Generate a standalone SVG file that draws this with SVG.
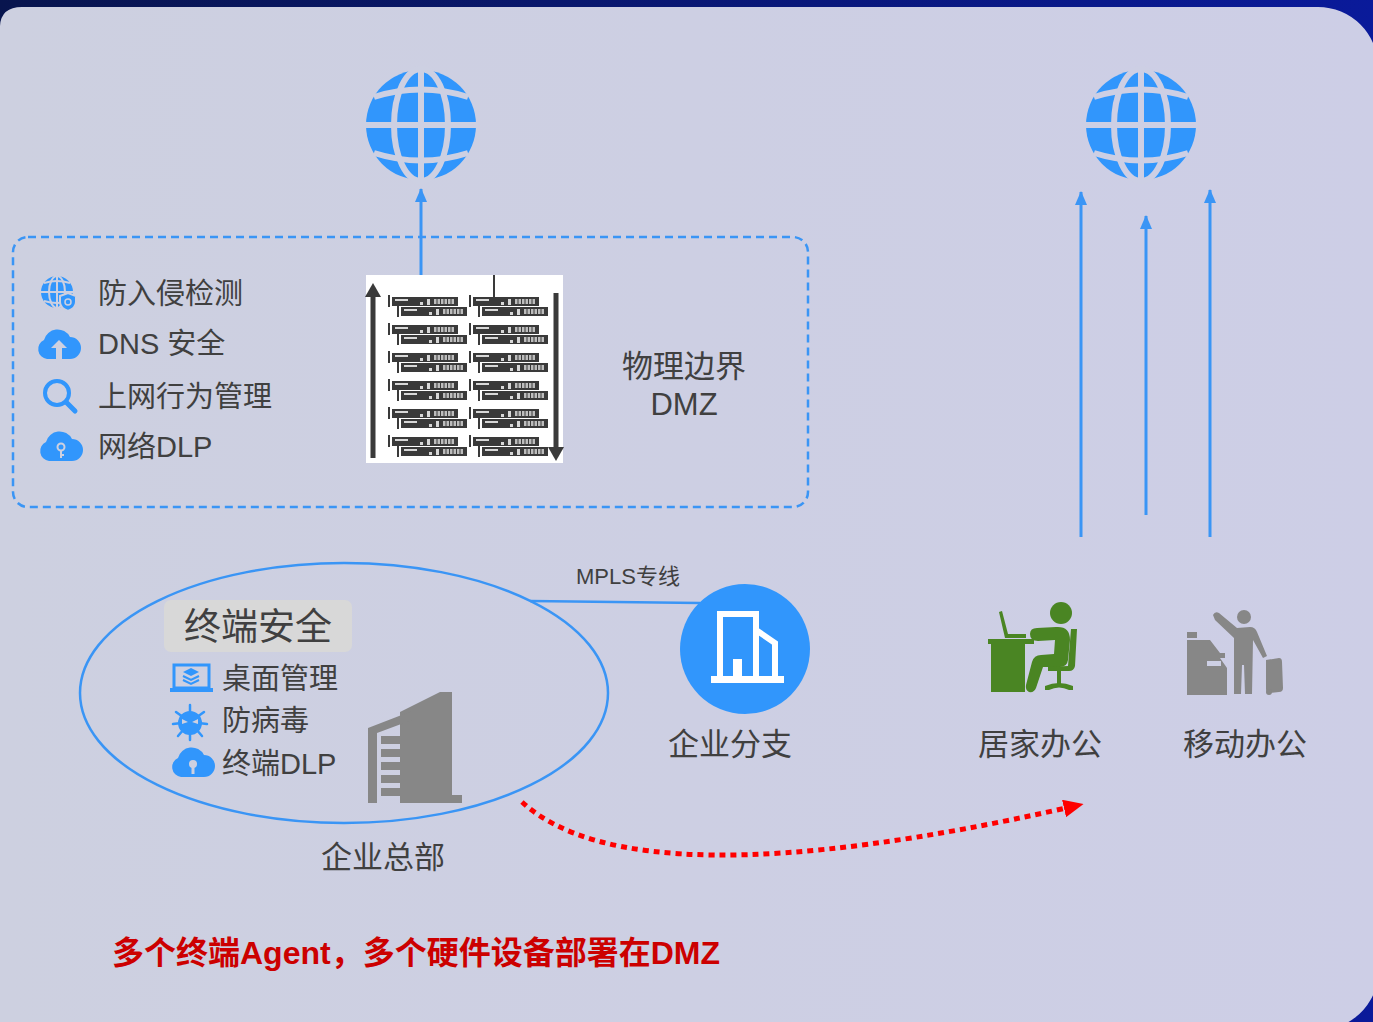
<svg xmlns="http://www.w3.org/2000/svg" width="1373" height="1022" viewBox="0 0 1373 1022">
  <defs>
    <linearGradient id="bgNavy" x1="0" y1="0" x2="1" y2="0">
      <stop offset="0" stop-color="#08154e"/>
      <stop offset="1" stop-color="#0a1a9a"/>
    </linearGradient>
    <linearGradient id="panelFill" x1="0" y1="0" x2="1" y2="0">
      <stop offset="0" stop-color="#cdd0e0"/>
      <stop offset="1" stop-color="#cdcee6"/>
    </linearGradient>
    <marker id="blueHead" viewBox="0 0 14 12" refX="13" refY="6" markerWidth="14" markerHeight="12" markerUnits="userSpaceOnUse" orient="auto">
      <path d="M0,0 L14,6 L0,12 Z" fill="#3a95f5"/>
    </marker>
    <marker id="redHead" viewBox="0 0 20 18" refX="2" refY="9" markerWidth="20" markerHeight="18" markerUnits="userSpaceOnUse" orient="auto">
      <path d="M0,0 L20,9 L0,18 Z" fill="#ff0000"/>
    </marker>
    <!-- one rack server unit -->
    <g id="rackUnit">
      <rect x="0" y="0" width="66" height="9" fill="#3a3a3a"/>
      <rect x="3" y="2" width="13" height="2" fill="#d8d8d8"/>
      <rect x="28" y="5" width="3" height="3" fill="#d8d8d8"/>
      <rect x="35" y="2" width="3" height="6" fill="#d8d8d8"/>
      <rect x="42" y="2" width="20" height="5" fill="#bdbdbd"/>
      <path d="M45,2 v5 M48.5,2 v5 M52,2 v5 M55.5,2 v5 M59,2 v5" stroke="#3a3a3a" stroke-width="1"/>
    </g>
    <g id="rackPair">
      <rect x="-4" y="-2" width="2" height="12" fill="#3a3a3a"/>
      <use href="#rackUnit"/>
      <rect x="5" y="9" width="2" height="11" fill="#3a3a3a"/>
      <use href="#rackUnit" x="9" y="10"/>
    </g>
  </defs>
  <style>
    .txt { font-family: "Liberation Sans", "Noto Sans CJK SC", sans-serif; fill: #404040; }
    .item { font-size: 29px; }
    .label { font-size: 31px; }
    .blue { fill: #3196fc; }
    .grey { fill: #878787; }
    .green { fill: #4a8523; }
  </style>

  <!-- backdrop -->
  <rect x="0" y="0" width="1373" height="1022" fill="url(#bgNavy)"/>
  <path d="M0,26 Q1,7 22,7 H1318 A60,60 0 0 1 1378,67 V962 A60,60 0 0 1 1318,1030 H0 Z" fill="url(#panelFill)"/>

  <!-- connectors -->
  <g id="connectors">
    <line x1="421" y1="285" x2="421" y2="189" stroke="#3a95f5" stroke-width="3" marker-end="url(#blueHead)"/>
    <line x1="1081" y1="537" x2="1081" y2="192" stroke="#3a95f5" stroke-width="3" marker-end="url(#blueHead)"/>
    <line x1="1146" y1="515" x2="1146" y2="216" stroke="#3a95f5" stroke-width="3" marker-end="url(#blueHead)"/>
    <line x1="1210" y1="537" x2="1210" y2="190" stroke="#3a95f5" stroke-width="3" marker-end="url(#blueHead)"/>
    <line x1="530" y1="601" x2="700" y2="603" stroke="#3a95f5" stroke-width="2.5"/>
    <text class="txt" x="628" y="584" font-size="22" text-anchor="middle">MPLS专线</text>
    <path d="M522,802 Q634,905 1066,808" fill="none" stroke="#ff0000" stroke-width="5" stroke-dasharray="6 5" marker-end="url(#redHead)"/>
  </g>

  <!-- internet globes -->
  <g id="globe-left">
    <circle cx="421" cy="125" r="55" class="blue"/>
    <g stroke="#cdd0e2" stroke-width="6" fill="none">
      <line x1="421" y1="68" x2="421" y2="182"/>
      <line x1="364" y1="125" x2="478" y2="125"/>
      <ellipse cx="421" cy="125" rx="27" ry="56"/>
      <path d="M374,97 Q421,82 468,97"/>
      <path d="M374,153 Q421,168 468,153"/>
    </g>
  </g>
  <g id="globe-right">
    <circle cx="1141" cy="125" r="55" class="blue"/>
    <g stroke="#cdcfe4" stroke-width="6" fill="none">
      <line x1="1141" y1="68" x2="1141" y2="182"/>
      <line x1="1084" y1="125" x2="1198" y2="125"/>
      <ellipse cx="1141" cy="125" rx="27" ry="56"/>
      <path d="M1094,97 Q1141,82 1188,97"/>
      <path d="M1094,153 Q1141,168 1188,153"/>
    </g>
  </g>

  <!-- DMZ perimeter -->
  <g id="dmz">
    <rect x="13" y="237" width="795" height="270" rx="15" fill="none" stroke="#3a95f5" stroke-width="2.5" stroke-dasharray="8 5"/>
    <text class="txt label" x="684" y="377" text-anchor="middle">物理边界</text>
    <text class="txt label" x="684" y="415" text-anchor="middle">DMZ</text>
  </g>

  <!-- perimeter security services -->
  <g id="perimeter-services">
    <!-- globe with shield -->
    <g>
      <circle cx="57" cy="292" r="16" class="blue"/>
      <g stroke="#cdd0e0" stroke-width="2" fill="none">
        <line x1="57" y1="276" x2="57" y2="308"/>
        <line x1="41" y1="292" x2="73" y2="292"/>
        <ellipse cx="57" cy="292" rx="8" ry="16"/>
        <path d="M44,283 Q57,279 70,283"/>
        <path d="M44,301 Q57,305 70,301"/>
      </g>
      <path d="M60,296 L68,293 L76,296 V302 Q76,308 68,311 Q60,308 60,302 Z" fill="#3196fc" stroke="#cdd0e0" stroke-width="2"/>
      <circle cx="68" cy="302" r="3" fill="none" stroke="#cdd0e0" stroke-width="1.5"/>
    </g>
    <text class="txt item" x="98" y="304">防入侵检测</text>

    <!-- cloud upload -->
    <path d="M47,359 A10,10 0 0 1 44,340 A14,14 0 0 1 70,337 A11,11 0 0 1 70,359 Z" class="blue"/>
    <path d="M59,340 L67,348 H62 V359 H56 V348 H51 Z" fill="#cdd0e0"/>
    <text class="txt item" x="98" y="354">DNS 安全</text>

    <!-- magnifier -->
    <circle cx="57" cy="393" r="12" fill="none" stroke="#3196fc" stroke-width="4"/>
    <line x1="66" y1="402" x2="75" y2="411" stroke="#3196fc" stroke-width="5" stroke-linecap="round"/>
    <text class="txt item" x="98" y="407">上网行为管理</text>

    <!-- cloud key -->
    <path d="M49,461 A10,10 0 0 1 46,442 A14,14 0 0 1 72,439 A11,11 0 0 1 72,461 Z" class="blue"/>
    <circle cx="61" cy="447" r="3.5" fill="none" stroke="#cdd0e0" stroke-width="2"/>
    <path d="M61,451 V458 M61,455 H64" stroke="#cdd0e0" stroke-width="2" fill="none"/>
    <text class="txt item" x="98" y="457">网络DLP</text>
  </g>

  <!-- hardware appliances rack -->
  <g id="rack">
    <rect x="366" y="275" width="197" height="188" fill="#ffffff"/>
    <line x1="494" y1="275" x2="494" y2="298" stroke="#3a3a3a" stroke-width="2"/>
    <line x1="373" y1="296" x2="373" y2="458" stroke="#3a3a3a" stroke-width="5"/>
    <path d="M365,297 L373,283 L381,297 Z" fill="#3a3a3a"/>
    <line x1="556" y1="293" x2="556" y2="448" stroke="#3a3a3a" stroke-width="5"/>
    <path d="M548,447 L556,461 L564,447 Z" fill="#3a3a3a"/>
    <use href="#rackPair" x="392" y="297"/>
    <use href="#rackPair" x="473" y="297"/>
    <use href="#rackPair" x="392" y="325"/>
    <use href="#rackPair" x="473" y="325"/>
    <use href="#rackPair" x="392" y="353"/>
    <use href="#rackPair" x="473" y="353"/>
    <use href="#rackPair" x="392" y="381"/>
    <use href="#rackPair" x="473" y="381"/>
    <use href="#rackPair" x="392" y="409"/>
    <use href="#rackPair" x="473" y="409"/>
    <use href="#rackPair" x="392" y="437"/>
    <use href="#rackPair" x="473" y="437"/>
  </g>

  <!-- headquarters -->
  <g id="headquarters">
    <ellipse cx="344" cy="693" rx="264" ry="130" fill="none" stroke="#3a95f5" stroke-width="2.5"/>
    <rect x="164" y="600" width="188" height="52" rx="7" fill="#d8d8d8"/>
    <text class="txt" x="258" y="640" font-size="37" text-anchor="middle">终端安全</text>

    <!-- laptop with layers -->
    <rect x="174" y="665" width="35" height="23" fill="none" stroke="#3196fc" stroke-width="3"/>
    <rect x="170" y="688" width="43" height="4" class="blue"/>
    <path d="M183,672 L191,668 L199,672 L191,676 Z" class="blue"/>
    <path d="M183,676 L191,680 L199,676 M183,680 L191,684 L199,680" fill="none" stroke="#3196fc" stroke-width="2"/>
    <text class="txt item" x="222" y="689">桌面管理</text>

    <!-- virus -->
    <g>
      <g stroke="#3196fc" stroke-width="2.5" stroke-linecap="round">
        <line x1="190" y1="722" x2="176" y2="712"/>
        <line x1="190" y1="722" x2="204" y2="712"/>
        <line x1="190" y1="722" x2="173" y2="724"/>
        <line x1="190" y1="722" x2="207" y2="724"/>
        <line x1="190" y1="722" x2="178" y2="736"/>
        <line x1="190" y1="722" x2="202" y2="736"/>
        <line x1="190" y1="722" x2="190" y2="705"/>
        <line x1="190" y1="722" x2="190" y2="740"/>
      </g>
      <circle cx="190" cy="723" r="12" class="blue"/>
      <path d="M182,719 L188,722 L182,724 Z M198,719 L192,722 L198,724 Z" fill="#cdd0e0"/>
    </g>
    <text class="txt item" x="222" y="731">防病毒</text>

    <!-- cloud key -->
    <path d="M181,777 A10,10 0 0 1 178,758 A14,14 0 0 1 204,755 A11,11 0 0 1 204,777 Z" class="blue"/>
    <circle cx="193" cy="764" r="4" fill="#cdd0e0"/>
    <rect x="191.5" y="766" width="3" height="8" fill="#cdd0e0"/>
    <text class="txt item" x="222" y="774">终端DLP</text>

    <!-- office building -->
    <g class="grey">
      <path d="M400,712 L440,692 L452,692 L452,795 L462,795 L462,803 L400,803 Z"/>
      <path d="M368,728 L412,711 L412,720 L377,733 L377,803 L368,803 Z"/>
      <rect x="381" y="736" width="19" height="8"/>
      <rect x="381" y="749" width="19" height="8"/>
      <rect x="381" y="762" width="19" height="8"/>
      <rect x="381" y="775" width="19" height="8"/>
      <rect x="381" y="788" width="19" height="8"/>
    </g>
    <text class="txt label" x="383" y="868" text-anchor="middle">企业总部</text>
  </g>

  <!-- branch office -->
  <g id="branch">
    <circle cx="745" cy="649" r="65" class="blue"/>
    <g fill="none" stroke="#ffffff" stroke-width="6">
      <path d="M720,678 V614 H756 V678"/>
      <path d="M756,630 L775,643 V678"/>
    </g>
    <rect x="733" y="659" width="9" height="19" fill="#ffffff"/>
    <rect x="711" y="676" width="73" height="7" fill="#ffffff"/>
    <text class="txt label" x="730" y="755" text-anchor="middle">企业分支</text>
  </g>

  <!-- remote work -->
  <g id="home-office">
    <g class="green">
      <rect x="988" y="639" width="46" height="5"/>
      <rect x="991" y="644" width="34" height="48"/>
      <path d="M999,612 L1002,611 L1008,634 L1026,634 L1026,638 L1005,638 Z"/>
      <circle cx="1061" cy="613" r="11"/>
      <path d="M1030,634 Q1030,628 1037,628 L1056,627 Q1070,626 1070,640 L1068,660 Q1067,667 1060,667 L1043,667 L1036,688 Q1034,693 1029,692 Q1025,690 1026,685 L1032,662 Q1034,655 1041,655 L1054,654 L1055,640 L1038,641 Q1030,641 1030,634 Z"/>
      <path d="M1071,629 L1077,629 L1075,666 Q1074,671 1069,671 L1048,671 L1048,667 L1068,666 Z"/>
      <rect x="1057" y="670" width="4" height="14"/>
      <path d="M1045,686 Q1059,680 1073,686 L1073,690 L1069,690 Q1059,685 1049,690 L1045,690 Z"/>
    </g>
    <text class="txt label" x="1040" y="755" text-anchor="middle">居家办公</text>
  </g>

  <g id="mobile-office">
    <g class="grey">
      <rect x="1187" y="632" width="10" height="6"/>
      <path d="M1187,640 L1210,640 L1220,653 L1225,653 L1225,658 L1220,658 L1227,668 L1227,695 L1187,695 Z"/>
      <rect x="1207" y="661" width="14" height="5" fill="#cdcfe4"/>
      <circle cx="1244" cy="617" r="7"/>
      <path d="M1213,615 Q1215,611 1219,613 L1237,628 L1250,627 Q1255,627 1257,632 L1267,656 L1263,658 L1253,640 L1252,694 L1245,694 L1244,665 L1242,665 L1241,694 L1234,694 L1234,638 L1215,620 Z"/>
      <path d="M1266,660 L1279,658 Q1282,658 1282,662 L1283,688 Q1283,692 1279,692 L1270,693 Q1266,693 1266,689 Z"/>
      <circle cx="1269" cy="692" r="3"/>
    </g>
    <text class="txt label" x="1245" y="755" text-anchor="middle">移动办公</text>
  </g>

  <!-- summary -->
  <text x="112" y="964" font-family="Liberation Sans, Noto Sans CJK SC, sans-serif" font-size="32" font-weight="bold" fill="#cc0000">多个终端Agent，多个硬件设备部署在DMZ</text>
</svg>
